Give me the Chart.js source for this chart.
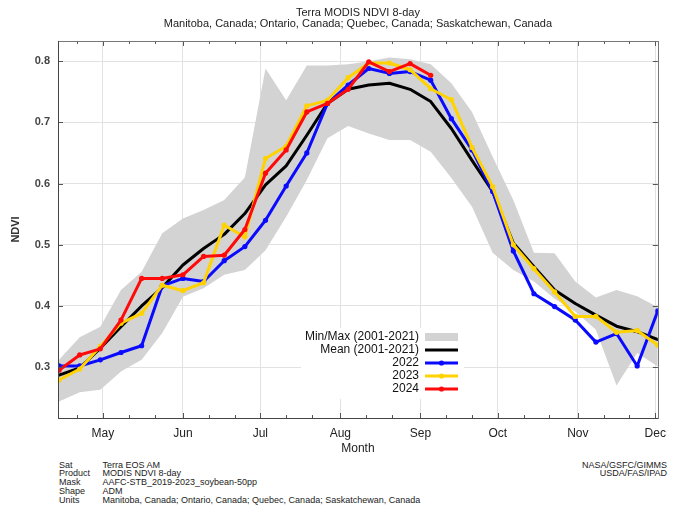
<!DOCTYPE html>
<html>
<head>
<meta charset="utf-8">
<title>Terra MODIS NDVI 8-day</title>
<script src="https://cdn.jsdelivr.net/npm/chart.js@4.4.1/dist/chart.umd.min.js"></script>
<style>
	body { margin : 0; background : #fff; }
	#wrap { position : relative; width : 674px; height : 512px; overflow : hidden; }
	#wrap canvas { position : absolute; left : 0; top : 0; }
	.foot { position : absolute; font : 9px "Liberation Sans", Arial, sans-serif; line-height : 8.8px; color : #222; white-space : nowrap; }
</style>
</head>
<body>
<div id="wrap">
	<canvas id="ndvi-chart" width="674" height="460"></canvas>
	<div class="foot" style="left:59px; top:460.5px;">Sat<br>Product<br>Mask<br>Shape<br>Units</div>
	<div class="foot" style="left:102.5px; top:460.5px;">Terra EOS AM<br>MODIS NDVI 8-day<br>AAFC-STB_2019-2023_soybean-50pp<br>ADM<br>Manitoba, Canada; Ontario, Canada; Quebec, Canada; Saskatchewan, Canada</div>
	<div class="foot" style="right:7px; top:460.5px; text-align:right;">NASA/GSFC/GIMMS<br>USDA/FAS/IPAD</div>
</div>
<script>
// day of year of each 8-day composite
var days = [104, 112, 120, 128, 136, 144, 152, 160, 168, 176, 184, 192, 200, 208, 216,
	224, 232, 240, 248, 256, 264, 272, 280, 288, 296, 304, 312, 320, 328, 336];

var minVals = [0.244, 0.259, 0.263, 0.293, 0.312, 0.356, 0.415, 0.429, 0.451, 0.459, 0.491, 0.546, 0.606, 0.674, 0.694,
	0.682, 0.671, 0.671, 0.652, 0.609, 0.562, 0.487, 0.459, 0.440, 0.412, 0.391, 0.361, 0.270, 0.323, 0.301];
var maxVals = [0.312, 0.349, 0.366, 0.426, 0.456, 0.519, 0.543, 0.557, 0.573, 0.610, 0.788, 0.736, 0.793, 0.793, 0.795,
	0.800, 0.806, 0.803, 0.795, 0.764, 0.717, 0.644, 0.573, 0.487, 0.486, 0.440, 0.414, 0.426, 0.416, 0.398];
var meanVals = [0.287, 0.299, 0.331, 0.366, 0.400, 0.430, 0.467, 0.494, 0.517, 0.551, 0.598, 0.629, 0.679, 0.731, 0.754,
	0.761, 0.764, 0.754, 0.734, 0.690, 0.638, 0.587, 0.503, 0.464, 0.426, 0.404, 0.385, 0.367, 0.358, 0.345];
var vals2022 = [0.302, 0.302, 0.312, 0.324, 0.335, 0.433, 0.445, 0.440, 0.474, 0.497, 0.540, 0.596, 0.650, 0.731, 0.761,
	0.788, 0.780, 0.783, 0.769, 0.706, 0.655, 0.587, 0.490, 0.420, 0.399, 0.377, 0.341, 0.355, 0.302, 0.392];
var vals2023 = [0.279, 0.297, 0.334, 0.372, 0.388, 0.434, 0.425, 0.438, 0.532, 0.513, 0.641, 0.661, 0.727, 0.736, 0.773,
	0.797, 0.797, 0.786, 0.755, 0.737, 0.659, 0.595, 0.500, 0.461, 0.423, 0.383, 0.383, 0.357, 0.360, 0.336];
var vals2024 = [0.295, 0.320, 0.330, 0.377, 0.445, 0.445, 0.451, 0.481, 0.483, 0.525, 0.617, 0.655, 0.717, 0.731, 0.754,
	0.799, 0.783, 0.796, 0.777];

// x axis ticks (first of month, and minor ticks on the 11th / 21st)
var monthDays = [121, 152, 182, 213, 244, 274, 305, 335];
var monthLabels = ["May", "Jun", "Jul", "Aug", "Sep", "Oct", "Nov", "Dec"];
var minorDays = [111, 131, 141, 162, 172, 192, 202, 223, 233, 254, 264, 284, 294, 315, 325];
var yTicks = [0.3, 0.4, 0.5, 0.6, 0.7, 0.8];

var legendLabels = ["Min/Max (2001-2021)", "Mean (2001-2021)", "2022", "2023", "2024"];

var FONT = "'Liberation Sans', Arial, sans-serif";
var GREY = "#d3d3d3";
var BLUE = "#0a0aff";
var YELLOW = "#ffd200";
var RED = "#ff0a0a";

function pts(vals) {
	var out = [];
	for (var i = 0; i < vals.length; i++) {
		out.push({ x : days[i], y : vals[i] });
	}
	return out;
}

// frame with inward tick marks
var framePlugin = {
	id : "frame",
	afterDatasetsDraw : function(chart) {
		var ctx = chart.ctx;
		var a = chart.chartArea;
		var xs = chart.scales.x, ys = chart.scales.y;
		ctx.save();
		ctx.lineWidth = 1;
		ctx.strokeStyle = "#555";
		ctx.beginPath();
		var i, px, py;
		for (i = 0; i < monthDays.length; i++) {
			px = Math.round(xs.getPixelForValue(monthDays[i])) + 0.5;
			ctx.moveTo(px, a.bottom); ctx.lineTo(px, a.bottom - 5);
			ctx.moveTo(px, a.top); ctx.lineTo(px, a.top + 5);
		}
		for (i = 0; i < minorDays.length; i++) {
			px = Math.round(xs.getPixelForValue(minorDays[i])) + 0.5;
			ctx.moveTo(px, a.bottom); ctx.lineTo(px, a.bottom - 3);
			ctx.moveTo(px, a.top); ctx.lineTo(px, a.top + 3);
		}
		for (i = 0; i < yTicks.length; i++) {
			py = Math.round(ys.getPixelForValue(yTicks[i])) + 0.5;
			ctx.moveTo(a.left, py); ctx.lineTo(a.left + 5, py);
			ctx.moveTo(a.right, py); ctx.lineTo(a.right - 5, py);
		}
		ctx.stroke();
		ctx.strokeStyle = "#777";
		ctx.strokeRect(Math.round(a.left) + 0.5, Math.round(a.top) + 0.5, Math.round(a.right - a.left), Math.round(a.bottom - a.top));
		ctx.strokeStyle = "#444";
		ctx.beginPath();
		ctx.moveTo(Math.round(a.left) + 0.5, a.top);
		ctx.lineTo(Math.round(a.left) + 0.5, Math.round(a.bottom) + 0.5);
		ctx.lineTo(a.right, Math.round(a.bottom) + 0.5);
		ctx.stroke();
		ctx.restore();
	}
};

// legend box inside the plot, text right aligned, sample on the right
var legendPlugin = {
	id : "boxLegend",
	afterDatasetsDraw : function(chart) {
		var ctx = chart.ctx;
		var colors = [GREY, "#000", BLUE, YELLOW, RED];
		var right = 419, sx = 425, sw = 33, top = 337, step = 13;
		ctx.save();
		ctx.fillStyle = "#fff";
		ctx.fillRect(301, top - 9, 163, 5 * step + 6);
		ctx.font = "12px " + FONT;
		ctx.textAlign = "right";
		ctx.textBaseline = "middle";
		for (var i = 0; i < legendLabels.length; i++) {
			var y = top + i * step;
			ctx.fillStyle = "#111";
			ctx.fillText(legendLabels[i], right, y);
			if (i == 0) {
				ctx.fillStyle = GREY;
				ctx.fillRect(sx, y - 4, sw, 8);
			} else {
				ctx.strokeStyle = colors[i];
				ctx.lineWidth = 3;
				ctx.beginPath();
				ctx.moveTo(sx, y); ctx.lineTo(sx + sw, y);
				ctx.stroke();
				if (i > 1) {
					ctx.fillStyle = colors[i];
					ctx.beginPath();
					ctx.arc(sx + sw / 2, y, 2.6, 0, Math.PI * 2);
					ctx.fill();
				}
			}
		}
		ctx.restore();
	}
};

//get canvas
var ctx = document.getElementById("ndvi-chart");

var data = {
	datasets : [
		{
			label : "Min",
			data : pts(minVals),
			borderWidth : 0,
			borderColor : GREY,
			backgroundColor : GREY,
			pointRadius : 0,
			fill : false,
			order : 6
		},
		{
			label : "Min/Max (2001-2021)",
			data : pts(maxVals),
			borderWidth : 0,
			borderColor : GREY,
			backgroundColor : GREY,
			pointRadius : 0,
			fill : "-1",
			order : 5
		},
		{
			label : "Mean (2001-2021)",
			data : pts(meanVals),
			borderColor : "#000",
			backgroundColor : "#000",
			borderWidth : 3,
			pointRadius : 0,
			fill : false,
			order : 4
		},
		{
			label : "2022",
			data : pts(vals2022),
			borderColor : BLUE,
			backgroundColor : BLUE,
			borderWidth : 3,
			pointRadius : 2.6,
			pointBorderWidth : 0,
			fill : false,
			order : 3
		},
		{
			label : "2023",
			data : pts(vals2023),
			borderColor : YELLOW,
			backgroundColor : YELLOW,
			borderWidth : 3,
			pointRadius : 2.6,
			pointBorderWidth : 0,
			fill : false,
			order : 2
		},
		{
			label : "2024",
			data : pts(vals2024),
			borderColor : RED,
			backgroundColor : RED,
			borderWidth : 3,
			pointRadius : 2.6,
			pointBorderWidth : 0,
			fill : false,
			order : 1
		}
	]
};

var options = {
	responsive : false,
	animation : false,
	layout : {
		padding : { left : 0, right : 6, top : 0, bottom : 0 }
	},
	elements : {
		line : { tension : 0, borderCapStyle : "round", borderJoinStyle : "round" },
		point : { borderWidth : 0, hoverRadius : 0 }
	},
	plugins : {
		legend : { display : false },
		tooltip : { enabled : false },
		title : {
			display : true,
			fullSize : false,
			text : ["Terra MODIS NDVI 8-day", "Manitoba, Canada; Ontario, Canada; Quebec, Canada; Saskatchewan, Canada"],
			color : "#222",
			font : { family : FONT, size : 11, weight : "normal", lineHeight : 1.03 },
			padding : { top : 7, bottom : 11.3 }
		}
	},
	scales : {
		x : {
			type : "linear",
			min : 103.6,
			max : 336,
			afterFit : function(scale) { scale.height = 42; },
			afterBuildTicks : function(scale) {
				scale.ticks = monthDays.map(function(d) { return { value : d }; });
			},
			ticks : {
				autoSkip : false,
				maxRotation : 0,
				padding : 8,
				color : "#222",
				font : { family : FONT, size : 12 },
				callback : function(value, index) { return monthLabels[index]; }
			},
			grid : { color : "#e2e2e2", drawTicks : false },
			border : { display : false },
			title : {
				display : true,
				text : "Month",
				color : "#222",
				font : { family : FONT, size : 12 },
				padding : { top : 0, bottom : 4 }
			}
		},
		y : {
			min : 0.217,
			max : 0.833,
			afterFit : function(scale) { scale.width = 58; },
			afterBuildTicks : function(scale) {
				scale.ticks = yTicks.map(function(v) { return { value : v }; });
			},
			ticks : {
				padding : 8,
				color : "#444",
				font : { family : FONT, size : 11, weight : "bold" },
				callback : function(value) { return value.toFixed(1); }
			},
			grid : { color : "#e2e2e2", drawTicks : false },
			border : { display : false },
			title : {
				display : true,
				text : "NDVI",
				color : "#333",
				font : { family : FONT, size : 11, weight : "bold" },
				padding : { top : 9.5, bottom : 0 }
			}
		}
	}
};

var chart = new Chart(ctx, {
	type : "line",
	data : data,
	options : options,
	plugins : [framePlugin, legendPlugin]
});
</script>
</body>
</html>
